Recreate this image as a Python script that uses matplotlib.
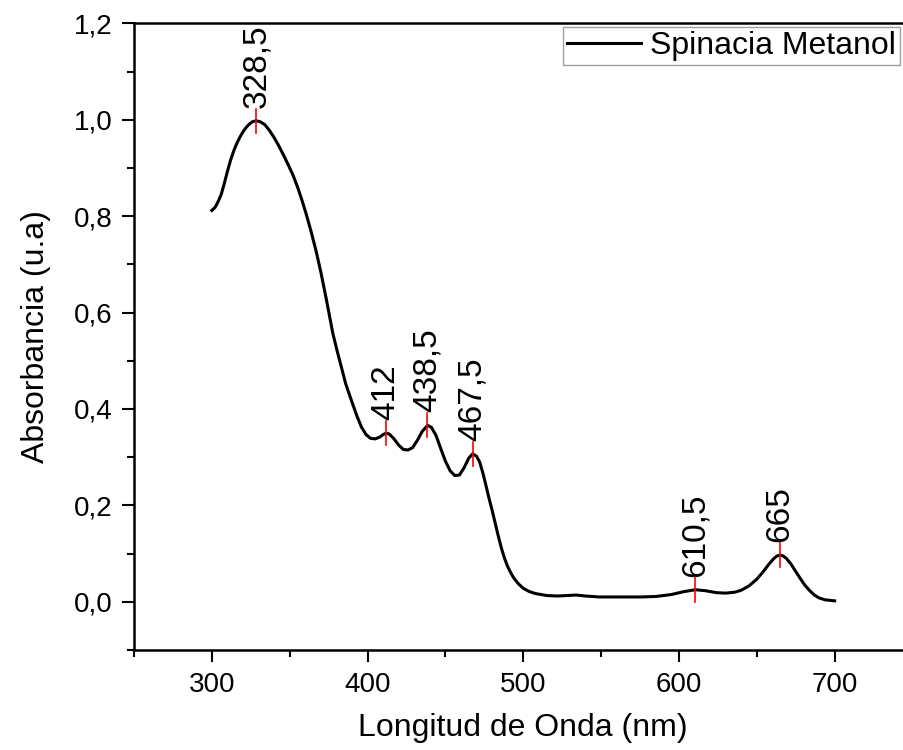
import numpy as np
import matplotlib
matplotlib.use("Agg")
import matplotlib.pyplot as plt
from matplotlib.ticker import MultipleLocator, FuncFormatter

# UV-Vis absorption spectrum of spinach extract in methanol
wavelength = [300, 302, 304, 306, 308, 310, 312, 314, 316, 318, 320, 322, 324, 326, 328.5,
              331, 334, 337, 340, 343, 346, 349, 352, 355, 358, 361, 364, 367, 370, 373.5,
              377.7, 380.5, 383.1, 386, 389.5, 393, 396, 399, 402, 405, 408, 410, 412, 414,
              417, 420, 423, 426, 429, 432, 435, 438.5, 441, 444, 447, 450, 453, 456, 459,
              462, 465, 467.5, 470, 472, 474, 476, 478, 480, 482, 484, 486, 488, 490, 492,
              494, 497, 500, 504, 508, 515, 522, 528, 534, 540, 549, 560, 575, 585, 595, 603,
              610.5, 617, 624, 630, 636, 640, 645, 650, 654, 658, 661, 663, 665, 667, 669,
              672, 675, 678, 681, 684, 687, 690, 694, 700]
absorbance = [0.812, 0.818, 0.830, 0.845, 0.868, 0.893, 0.916, 0.935, 0.951, 0.964, 0.975,
              0.984, 0.991, 0.996, 0.998, 0.996, 0.990, 0.978, 0.963, 0.946, 0.927, 0.907,
              0.886, 0.861, 0.832, 0.800, 0.765, 0.727, 0.684, 0.628, 0.557, 0.520, 0.488,
              0.452, 0.419, 0.387, 0.363, 0.347, 0.339, 0.338, 0.342, 0.347, 0.350, 0.348,
              0.338, 0.325, 0.316, 0.315, 0.320, 0.335, 0.353, 0.366, 0.362, 0.345, 0.318,
              0.292, 0.272, 0.262, 0.263, 0.278, 0.298, 0.307, 0.302, 0.290, 0.268, 0.242,
              0.215, 0.190, 0.163, 0.136, 0.111, 0.090, 0.073, 0.060, 0.049, 0.037, 0.028,
              0.021, 0.017, 0.013, 0.012, 0.013, 0.014, 0.012, 0.010, 0.010, 0.010, 0.011,
              0.015, 0.021, 0.025, 0.023, 0.019, 0.018, 0.020, 0.024, 0.033, 0.047, 0.062,
              0.079, 0.090, 0.095, 0.097, 0.095, 0.090, 0.078, 0.063, 0.048, 0.034, 0.023,
              0.014, 0.008, 0.004, 0.002]

# Peak positions (nm) marked on the spectrum
peaks = [328.5, 412, 438.5, 467.5, 610.5, 665]

series_name = "Spinacia Metanol"
x_label = "Longitud de Onda (nm)"
y_label = "Absorbancia (u.a)"

plt.rcParams["font.family"] = ["Liberation Sans", "DejaVu Sans"]

fig = plt.figure(figsize=(9.04, 7.5), dpi=100)
ax = fig.add_axes([134 / 904, 100 / 750, (912.5 - 134) / 904, (650 - 23.4) / 750])

ax.plot(wavelength, absorbance, color="black", lw=2.2, label=series_name,
        solid_joinstyle="round")

def comma(v, pos=None):
    s = f"{v:.1f}" if abs(v) >= 1e-9 else "0.0"
    return s.replace(".", ",")

for p in peaks:
    yp = float(np.interp(p, wavelength, absorbance))
    ax.plot([p, p], [yp - 0.025, yp + 0.025], color="red", lw=1.2, zorder=3)
    txt = f"{p:g}".replace(".", ",")
    ax.text(p, yp + 0.027, txt, rotation=90, ha="center", va="bottom",
            fontsize=24, color="black")

ax.set_xlim(250, 750)
ax.set_ylim(-0.1, 1.2)
ax.xaxis.set_major_locator(MultipleLocator(100))
ax.xaxis.set_minor_locator(MultipleLocator(50))
ax.yaxis.set_major_locator(MultipleLocator(0.2))
ax.yaxis.set_minor_locator(MultipleLocator(0.1))
ax.yaxis.set_major_formatter(FuncFormatter(comma))
ax.xaxis.set_major_formatter(FuncFormatter(lambda v, pos: f"{v:.0f}"))

ax.tick_params(which="major", direction="out", length=8.6, width=1.5, labelsize=20, pad=7)
ax.tick_params(which="minor", direction="out", length=5, width=1.5)
ax.tick_params(top=False, right=False, which="both")

for side in ["left", "bottom", "top"]:
    ax.spines[side].set_linewidth(1.8)
ax.spines["right"].set_visible(False)

ax.set_xlabel(x_label, fontsize=23, labelpad=11)
ax.set_ylabel(y_label, fontsize=23, labelpad=16)

leg = ax.legend(loc="upper right", bbox_to_anchor=(900 / 904, 1 - 27 / 750),
                bbox_transform=fig.transFigure, fontsize=23, frameon=True,
                fancybox=False, borderpad=0.12, borderaxespad=0, handlelength=2.3,
                handletextpad=0.3)
leg.get_frame().set_edgecolor("#888888")
leg.get_frame().set_linewidth(1.0)

fig.savefig("out.png", dpi=100)
